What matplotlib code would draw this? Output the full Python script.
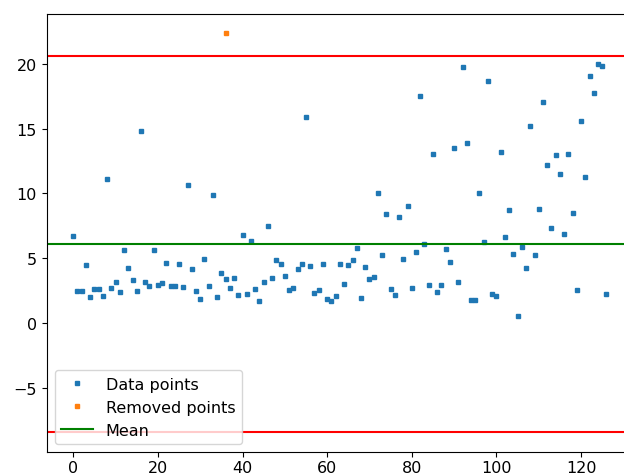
import numpy as np
import matplotlib
matplotlib.use("Agg")
import matplotlib.pyplot as plt

# Values
data_values = [
    6.71, 2.47, 2.47, 4.47, 1.98, 2.65, 2.65, 2.08, 11.13, 2.70,
    3.19, 2.44, 5.63, 4.22, 3.29, 2.50, 14.78, 3.14, 2.83, 5.66,
    2.93, 3.06, 4.66, 2.83, 2.83, 4.53, 2.78, 10.62, 4.19, 2.47,
    1.85, 4.94, 2.85, 9.87, 2.03, 3.83, 3.37, 2.68, 3.47, 2.19,
    6.79, 2.21, 6.32, 2.62, 1.70, 3.14, 7.46, 3.50, 4.89, 4.53,
    3.63, 2.55, 2.68, 4.17, 4.55, 15.91, 4.40, 2.34, 2.55, 4.55,
    1.83, 1.73, 2.11, 4.58, 3.01, 4.45, 4.86, 5.81, 1.93, 4.32,
    3.37, 3.55, 10.02, 5.27, 8.38, 2.62, 2.19, 8.17, 4.91, 9.00,
    2.68, 5.50, 17.50, 6.14, 2.98, 13.01, 2.39, 2.93, 5.74, 4.70,
    13.52, 3.19, 19.72, 13.91, 1.77, 1.77, 10.05, 6.25, 18.64, 2.21,
    2.06, 13.16, 6.66, 8.71, 5.35, 0.52, 5.84, 4.29, 15.22, 5.22,
    8.79, 17.02, 12.21, 7.35, 12.98, 11.49, 6.86, 13.06, 8.48, 2.52,
    15.60, 11.23, 19.05, 17.76, 20.00, 19.85, 2.21,
]
removed_index = [36]
removed_values = [22.34]

mean_value = 6.12
upper_limit = 20.62
lower_limit = -8.38

x = np.arange(len(data_values))

fig = plt.figure(figsize=(6.24, 4.77), dpi=100)
plt.rcParams['font.size'] = 11.5
# axes run past the right edge, like the cropped reference
ax = fig.add_axes([46.6 / 624, 24 / 477, 586.5 / 624, 438 / 477])

ax.plot(x, data_values, 's', ms=3.2, color='tab:blue', label='Data points')
ax.plot(removed_index, removed_values, 's', ms=3.2, color='tab:orange',
        label='Removed points')
ax.axhline(mean_value, color='green', lw=1.5, label='Mean')
ax.axhline(upper_limit, color='red', lw=1.5)
ax.axhline(lower_limit, color='red', lw=1.5)

ax.set_xlim(-6.3, 132.3)
ax.set_ylim(-9.93, 23.83)
ax.tick_params(labelsize=11.5)
ax.tick_params(axis='x', pad=2.5)
ax.legend(loc='lower left', fontsize=11.5)

fig.savefig('out.png', dpi=100)
